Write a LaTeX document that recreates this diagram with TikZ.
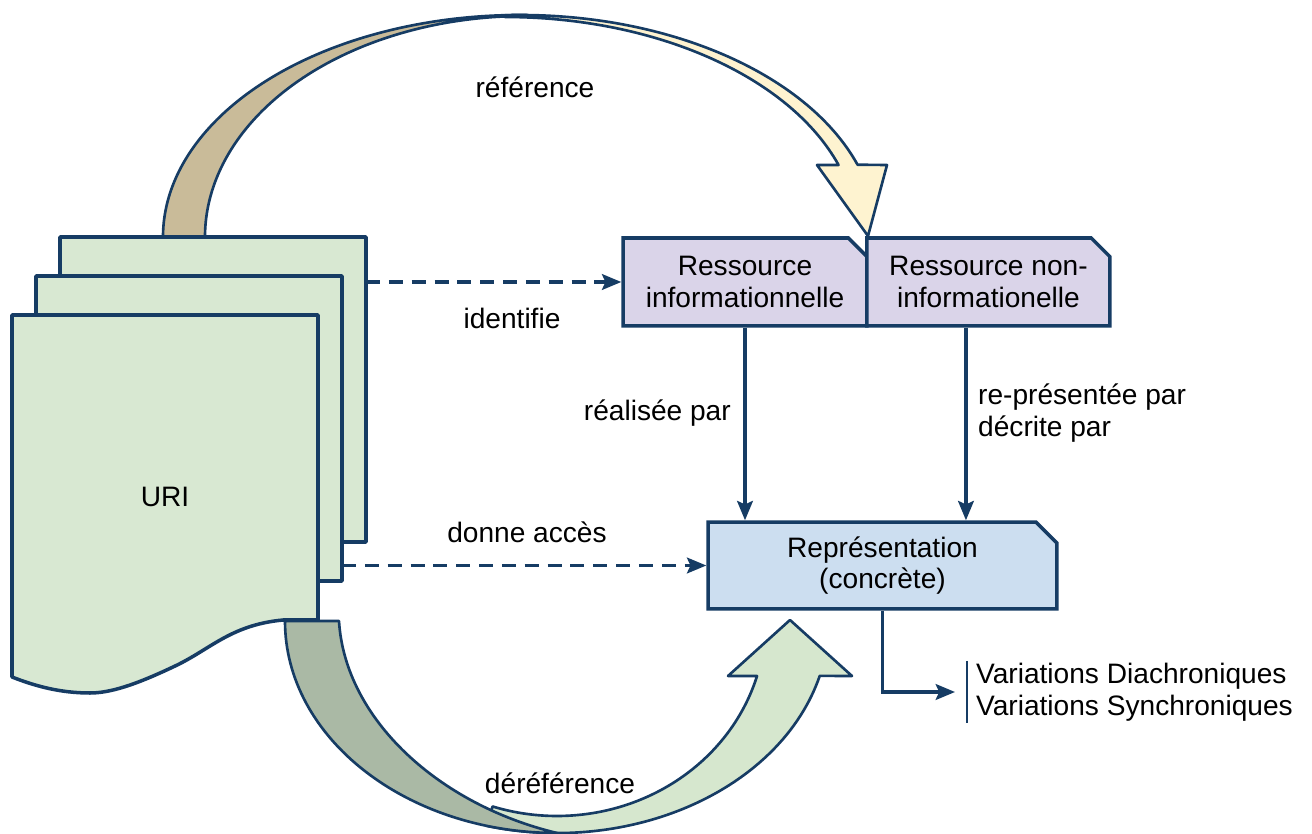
\documentclass[tikz,border=0pt]{standalone}
\usepackage{fontspec}
\setmainfont{Liberation Sans}
\usetikzlibrary{shapes.misc,arrows.meta,positioning}
\definecolor{navy}{RGB}{22,60,100}
\definecolor{pagegreen}{RGB}{216,232,210}
\definecolor{lavender}{RGB}{218,212,233}
\definecolor{paleblue}{RGB}{204,222,240}
\definecolor{tanband}{RGB}{201,187,153}
\definecolor{cream}{RGB}{254,243,208}
\definecolor{sage}{RGB}{170,185,165}
\definecolor{mint}{RGB}{214,231,206}
\begin{document}
\begin{tikzpicture}[x=0.02cm, y=-0.02cm,
font=\fontsize{16}{18}\selectfont,
% common options for the boxes:
rbox/.style = {chamfered rectangle, chamfered rectangle corners=north east,
            chamfered rectangle xsep=0.25cm, draw=navy, line width=2pt,
            align=center, inner sep=0, minimum height=1.76cm},
% common options for the pages:
page/.style = {draw=navy, fill=pagegreen, line width=2pt, line join=round},
% common options for the curved arrows:
band/.style = {draw=navy, line width=1.5pt, line join=round},
link/.style = {draw=navy, line width=1.8pt, -{Stealth[length=11pt,width=9pt,inset=2pt]}},
dlink/.style = {link, dash pattern=on 8pt off 5pt}]
\useasboundingbox (0,0) rectangle (1312,834);
% reference arrow over the top
\filldraw[band, fill=tanband] (163,237) arc[start angle=180, end angle=271, x radius=357, y radius=222]
  -- ([shift={(525,237)}]271:320 and 221) arc[start angle=271, end angle=180, x radius=320, y radius=221] -- cycle;
\filldraw[band, fill=cream] ([shift={(520,237)}]267.6:357 and 222) arc[start angle=267.6, end angle=341, x radius=357, y radius=222]
  -- (887,165) -- (868,236) -- (817,165)
  -- ([shift={(505,237)}]340.9:353 and 220) arc[start angle=340.9, end angle=270, x radius=353, y radius=220] -- cycle;
% dereference arrow under the bottom
\filldraw[band, fill=mint] ([shift={(557,621)}]105:272 and 212) arc[start angle=105, end angle=15, x radius=272, y radius=212]
  -- (852,676) -- (790,620) -- (728,676)
  -- ([shift={(557,621)}]16.4:208.5 and 195) arc[start angle=16.4, end angle=108, x radius=208.5, y radius=195] -- cycle;
\filldraw[band, fill=sage] (285,621) arc[start angle=180, end angle=90, x radius=272, y radius=212]
  .. controls (440,805) and (345,720) .. (339,621) -- cycle;
% the URI pages
\foreach \i in {2,1,0}
  \draw[page, shift={(24*\i,-39*\i)}] (12,315) -- (318,315) -- (318,620) -- (283,620)
    .. controls (230,625) and (210,650) .. (173,667) .. controls (135,685) and (110,693) .. (90,693)
    .. controls (60,693) and (35,686) .. (12,677) -- cycle;
\coordinate (back) at (366,237);
\coordinate (mid) at (342,276);
\node (uri) at (165,497) {URI};
% resources
\node[rbox, fill=lavender, minimum width=4.88cm] (RI) at (745,282) {Ressource\\informationnelle};
\node[rbox, fill=lavender, minimum width=4.86cm, right=-2pt of RI] (RNI) {Ressource non-\\informationelle};
\node[rbox, fill=paleblue, minimum width=6.98cm, minimum height=1.74cm,
      chamfered rectangle xsep=0.3cm] (Repr) at (882.5,565.5) {Représentation\\(concrète)};
\node[anchor=west, align=left, inner xsep=5pt, inner ysep=1pt] (var) at (967,692) {Variations Diachroniques\\Variations Synchroniques};
\draw[navy, line width=1.4pt] (var.north west) -- (var.south west);
% connectors
\draw[dlink] (back |- RI.west) -- (RI.west);
\draw[dlink] (mid |- Repr.west) -- (Repr.west);
\draw[link] (RI.south) -- (RI.south |- Repr.north);
\draw[link] ([xshift=-0.45cm]RNI.south) -- ([xshift=-0.45cm]RNI.south |- Repr.north);
\draw[link, shorten >=0.24cm] (Repr.south) |- (var.west);
% labels
\node (reference) at (535,87) {référence};
\node (identifie) at (512,318) {identifie};
\node[anchor=east] (realisee) at (737,413) {réalisée par};
\node[anchor=west, align=left] (decrite) at (972,413) {re-présentée par\\décrite par};
\node (donne) at (527,532) {donne accès};
\node (dereference) at (560,783) {déréférence};
\end{tikzpicture}
\end{document}
